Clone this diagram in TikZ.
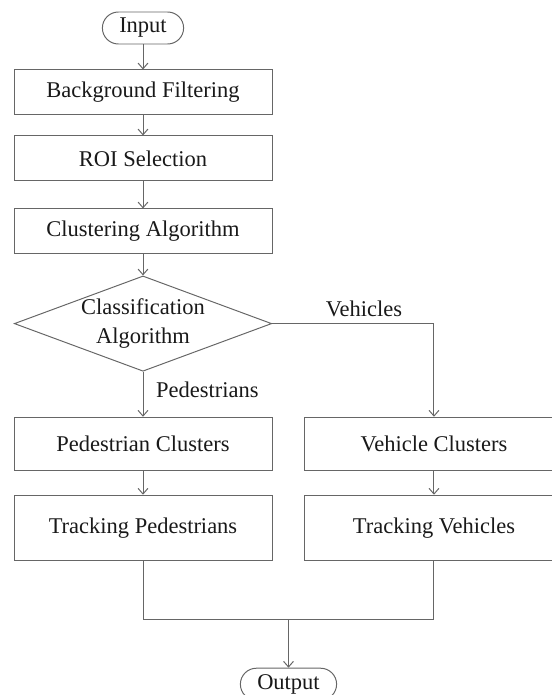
\documentclass[tikz,border=0pt]{standalone}
\usepackage{fontspec}
\setmainfont{Liberation Serif}
\usepackage{tikz}
\usetikzlibrary{positioning, arrows.meta, calc, shapes.geometric}

\begin{document}
\begin{tikzpicture}[node distance = 0.6cm, >={Straight Barb[length=4pt,width=7pt]},
		color=black!60, line width=0.7pt,
		every node/.style = {text=black!90, font=\fontsize{16}{20.5}\selectfont},
		term/.style = {draw, rectangle, rounded corners=0.4cm, minimum height=0.8cm, inner xsep=12pt},
		proc/.style = {draw, rectangle, minimum width=6.45cm, minimum height=1.125cm},
		decide/.style = {draw, diamond, aspect=2.7, inner sep=0pt, minimum width=6.43cm, minimum height=2.35cm, align=center}]
		\clip (-3.575,0.7) rectangle (10.225,-16.675);
		\node[term] (In) {Input};
		\node[proc, below = 0.625cm of In] (BgF) {Background Filtering};
		\node[proc, below = 0.5cm of BgF] (ROI) {ROI Selection};
		\node[proc, below = 0.675cm of ROI] (Clu) {Clustering Algorithm};
		\node[decide, below = 0.525cm of Clu] (Cls) {Classification\\Algorithm};
		\node[proc, below = 1.125cm of Cls, minimum height=1.325cm] (PedC) {Pedestrian Clusters};
		\node[proc, below = 0.6cm of PedC, minimum height=1.625cm] (PedT) {Tracking Pedestrians};
		\node[proc, right = 0.8cm of PedC, minimum height=1.325cm] (VehC) {Vehicle Clusters};
		\node[proc, right = 0.8cm of PedT, minimum height=1.625cm] (VehT) {Tracking Vehicles};
		\coordinate (Mrg) at ($(PedT.south)!0.5!(VehT.south) + (0,-1.475cm)$);
		\node[term, below = 1.2cm of Mrg] (Out) {Output};
		\draw[->] (In) -- (BgF);
		\draw[->] (BgF) -- (ROI);
		\draw[->] (ROI) -- (Clu);
		\draw[->] (Clu) -- (Cls);
		\draw[->] (Cls) -- node[right, pos=0.4, xshift=0.2cm] {Pedestrians} (PedC);
		\draw[->] (Cls.east) -| node[above, pos=0.284, yshift=0.05cm] {Vehicles} (VehC.north);
		\draw[->] (PedC) -- (PedT);
		\draw[->] (VehC) -- (VehT);
		\draw (PedT.south) |- (Mrg) -| (VehT.south);
		\draw[->] (Mrg) -- (Out);
	\end{tikzpicture}
\end{document}
